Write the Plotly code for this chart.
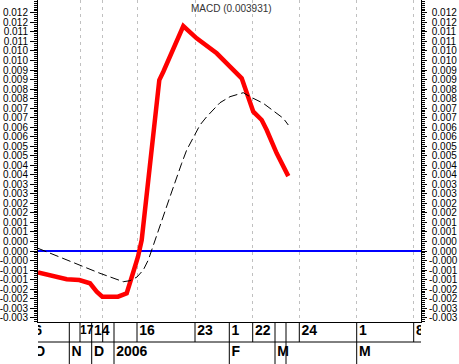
import plotly.graph_objects as go

# ---- data (x = bar position along the compressed time axis) ----
macd_pos = [0, 28.7, 41.3, 52, 58.7, 64.3, 80, 88.7, 95, 100, 103.7, 110, 117,
            121.3, 125.3, 145.3, 158.7, 178.7, 192, 203.7, 215.3, 223.7, 228.7,
            238.7, 250.3]
macd_val = [-0.00112, -0.001486, -0.001522, -0.001696, -0.002136, -0.002399,
            -0.002399, -0.00222, -0.001155, -0.000299, 0.000577, 0.003727,
            0.006966, 0.008976, 0.009412, 0.011811, 0.011165, 0.010378,
            0.009675, 0.009066, 0.007312, 0.006877, 0.006352, 0.005129, 0.003931]

sig_pos = [0, 22, 42, 62, 85.3, 92, 99, 105.3, 110.3, 115.3, 118.7, 124.3, 132,
           143.7, 148.7, 162, 168.7, 182, 192, 205.3, 212, 225.3, 245.3, 250.3]
sig_val = [0.000142, -0.000315, -0.000735, -0.001171, -0.001612, -0.001559,
           -0.001365, -0.000997, -0.000472, 0.000315, 0.000751, 0.001627,
           0.00285, 0.004604, 0.005302, 0.006614, 0.00705, 0.007785, 0.0081,
           0.00831, 0.0081, 0.007753, 0.006966, 0.006614]

# y tick values and labels (labels truncated to 3 decimals as in the source)
ytick_vals = [-0.0035, -0.003, -0.0025, -0.002, -0.0015, -0.001, -0.0005, 0.0,
              0.0005, 0.001, 0.0015, 0.002, 0.0025, 0.003, 0.0035, 0.004,
              0.0045, 0.005, 0.0055, 0.006, 0.0065, 0.007, 0.0075, 0.008,
              0.0085, 0.009, 0.0095, 0.010, 0.0105, 0.011, 0.0115, 0.012, 0.0125]
ytick_text = ["-0.003", "-0.003", "-0.002", "-0.002", "-0.001", "-0.001",
              "-0.000", "0.000", "0.000", "0.001", "0.001", "0.002", "0.002",
              "0.003", "0.003", "0.004", "0.004", "0.005", "0.005", "0.006",
              "0.006", "0.007", "0.007", "0.008", "0.008", "0.009", "0.009",
              "0.010", "0.010", "0.011", "0.011", "0.012", "0.012"]
ytick_text_right = [t if t.startswith("-") else "\u00a0" + t for t in ytick_text]

# time axis: day ticks (row 1) and month starts (row 2)
day_pos = [-6, 31.3, 42, 53.7, 64.7, 76, 99, 157, 191.3, 214.7, 237, 248,
           261.3, 318.7, 375.7]
day_labels = ["6", "", "17", "14", "", "", "16", "23", "1", "22", "", "",
              "24", "1", "8"]
month_pos = [-6, 31.3, 53.7, 76, 191.3, 237, 248, 318.7]
month_labels = ["O", "N", "D", "2006", "F", "M", "", "M"]
grid_pos = [42, 64.7, 99, 157, 214.7, 261.3, 318.7, 375.7]

x_range = [0, 383]
y_range = [-0.003727, 0.013176]

FONT = "Liberation Sans, Arial, sans-serif"

fig = go.Figure()

# invisible trace to register the right-hand axis
fig.add_trace(go.Scatter(x=macd_pos, y=macd_val, mode="lines", yaxis="y2",
                         line=dict(width=0), opacity=0, hoverinfo="skip",
                         showlegend=False))
fig.add_trace(go.Scatter(x=macd_pos, y=macd_val, mode="lines", name="MACD",
                         line=dict(color="#FF0000", width=4.5),
                         showlegend=False))
fig.add_trace(go.Scatter(x=sig_pos, y=sig_val, mode="lines", name="Signal",
                         line=dict(color="black", width=1, dash="9px,4px"),
                         showlegend=False))

# bottom date table
# the narrow slot before "14" gets a slightly smaller, unpadded label
day_sizes = [12 if lbl == "17" else 14 for lbl in day_labels]
day_pad = [0 if lbl == "17" else 2 for lbl in day_labels]
fig.add_trace(go.Scatter(x=day_pos, y=[33] * len(day_pos), text=day_labels,
                         mode="markers+text", textposition="middle right",
                         marker=dict(size=day_pad, opacity=0), cliponaxis=True,
                         textfont=dict(family=FONT, size=day_sizes,
                                       color="black", weight="bold"),
                         xaxis="x2", yaxis="y3", hoverinfo="skip",
                         showlegend=False))
fig.add_trace(go.Scatter(x=month_pos, y=[11.5] * len(month_pos),
                         text=month_labels,
                         mode="markers+text", textposition="middle right",
                         marker=dict(size=2, opacity=0), cliponaxis=True,
                         textfont=dict(family=FONT, size=14, color="black",
                                       weight="bold"),
                         xaxis="x2", yaxis="y3", hoverinfo="skip",
                         showlegend=False))

shapes = []
for p in day_pos:
    shapes.append(dict(type="line", xref="x2", yref="y3", x0=p, x1=p,
                       y0=22, y1=42, line=dict(color="black", width=1)))
for p in month_pos:
    shapes.append(dict(type="line", xref="x2", yref="y3", x0=p, x1=p,
                       y0=0, y1=22, line=dict(color="black", width=1)))
shapes.append(dict(type="line", xref="x2 domain", yref="y3", x0=0, x1=1,
                   y0=22, y1=22, line=dict(color="black", width=1)))

main_dom = [42 / 364, 1]
ytick_font = dict(family=FONT, size=10, color="black")
minor = dict(ticks="outside", ticklen=3, tickcolor="black", tickwidth=1,
             tickmode="linear", tick0=0, dtick=0.0001, showgrid=False)

fig.update_layout(
    width=459, height=364,
    margin=dict(l=38, r=38, t=0, b=0, pad=0),
    paper_bgcolor="white", plot_bgcolor="white",
    showlegend=False,
    shapes=shapes,
    xaxis=dict(range=x_range, domain=[0, 1], anchor="y",
               tickmode="array", tickvals=grid_pos, ticks="",
               showticklabels=False, showgrid=True, gridcolor="#C0C0C0",
               griddash="3px,4px", gridwidth=1, zeroline=False,
               showline=True, linecolor="black", linewidth=1),
    yaxis=dict(range=y_range, domain=main_dom, anchor="x",
               tickmode="array", tickvals=ytick_vals, ticktext=ytick_text,
               ticks="outside", ticklen=7, tickcolor="black", tickwidth=1,
               tickfont=ytick_font, showgrid=False,
               zeroline=True, zerolinecolor="#0000FF", zerolinewidth=2,
               showline=True, linecolor="black", linewidth=1,
               minor=minor),
    yaxis2=dict(range=y_range, overlaying="y", side="right", anchor="x",
                tickmode="array", tickvals=ytick_vals,
                ticktext=ytick_text_right,
                ticks="outside", ticklen=5, tickcolor="black", tickwidth=1,
                tickfont=ytick_font, showgrid=False, zeroline=False,
                showline=True, linecolor="black", linewidth=1,
                minor=minor),
    xaxis2=dict(matches="x", domain=[0, 1], anchor="y3", visible=False,
                showgrid=False, zeroline=False),
    yaxis3=dict(range=[0, 42], domain=[0, 42 / 364], anchor="x2",
                visible=False, showgrid=False, zeroline=False,
                fixedrange=True),
    annotations=[dict(text="MACD (%.6f)" % macd_val[-1], xref="paper",
                      yref="paper", x=0.504, y=1, xanchor="center",
                      yanchor="top", yshift=-1, showarrow=False,
                      font=dict(family=FONT, size=10, color="#333333"))],
)

fig.write_html("out.html",
               config={"displayModeBar": False, "staticPlot": True},
               post_script="document.body.style.margin='0';"
                           "document.body.style.overflow='hidden';")
